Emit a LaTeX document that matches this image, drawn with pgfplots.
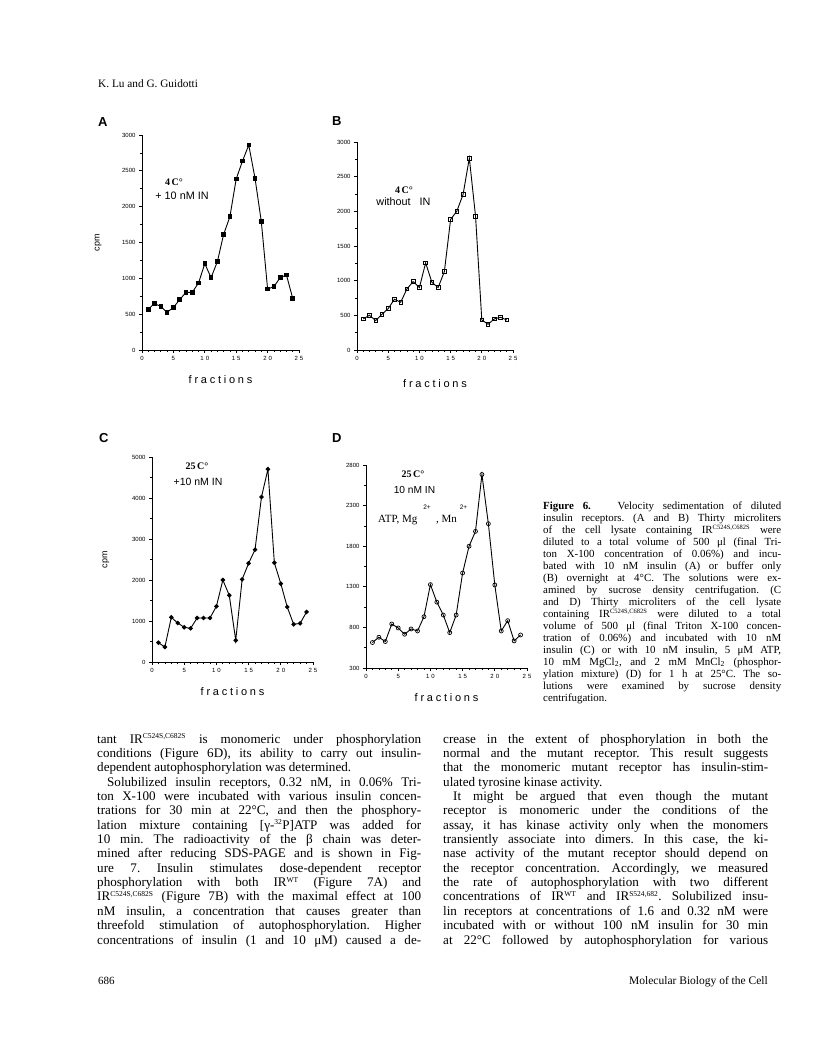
\documentclass[border=0pt]{standalone}
\usepackage{fontspec}
\setmainfont{Liberation Serif}
\setsansfont{Liberation Sans}
\newfontfamily\spacedsans[LetterSpace=25]{Liberation Sans}
\usepackage{pgfplots}
\pgfplotsset{compat=1.18}

\pgfplotsset{panel/.style={
  scale only axis, axis lines=left, axis line style={-, line width=0.9pt},
  xmin=0, xmax=25, xtick={0,5,10,15,20,25},
  xticklabels={0,5,1\hspace{2pt}0,1\hspace{2pt}5,2\hspace{2pt}0,2\hspace{2pt}5},
  minor x tick num=4,
  tick align=outside, major tick length=3pt, minor tick length=1.8pt,
  every tick/.style={black, line width=0.7pt},
  tick label style={font=\sffamily\fontsize{6pt}{6.5pt}\selectfont},
  /pgf/number format/assume math mode=true,
  /pgf/number format/set thousands separator={},
  xlabel={\spacedsans\fontsize{11pt}{12pt}\selectfont fractions},
  xlabel style={at={(axis description cs:0.5,0)}, anchor=center, yshift=-30pt},
  every axis plot/.append style={black, line width=0.9pt},
  clip=false,
}}

\newcommand\jl[1]{\makebox[324pt][s]{#1}}
\newcommand\jr[1]{\makebox[325pt][s]{#1}}
\newcommand\cl[1]{\makebox[238pt][s]{#1}}
\newcommand\bodyfont{\fontsize{13.1pt}{14.4pt}\selectfont}
\newcommand\capfont{\fontsize{10.9pt}{12pt}\selectfont}
\newcommand\sups[1]{\textsuperscript{\fontsize{7.5pt}{8pt}\selectfont #1}}
\newcommand\csups[1]{\textsuperscript{\fontsize{6.5pt}{7pt}\selectfont #1}}

\begin{document}
\frenchspacing
\begin{tikzpicture}[x=1pt,y=1pt]
\path[use as bounding box, fill=white] (0,0) rectangle (816,-1062);

% header
\node[anchor=base west, inner sep=0, font=\fontsize{11.3pt}{13pt}\selectfont] at (98,-88) {K. Lu and G. Guidotti};

% panel letters
\node[anchor=base west, inner sep=0, font=\sffamily\bfseries\fontsize{13pt}{14pt}\selectfont] at (98,-127) {A};
\node[anchor=base west, inner sep=0, font=\sffamily\bfseries\fontsize{13pt}{14pt}\selectfont] at (332,-125) {B};
\node[anchor=base west, inner sep=0, font=\sffamily\bfseries\fontsize{13pt}{14pt}\selectfont] at (99,-442) {C};
\node[anchor=base west, inner sep=0, font=\sffamily\bfseries\fontsize{13pt}{14pt}\selectfont] at (332,-442) {D};

% Panel A
\begin{axis}[panel, at={(142pt,-350pt)}, anchor=south west, width=157pt, height=215pt,
  ymin=0, ymax=3000, ytick={0,500,...,3000}, minor y tick num=1,
  ylabel={cpm}, ylabel style={at={(axis description cs:-0.28,0.5)}, anchor=center, font=\sffamily\fontsize{9pt}{10pt}\selectfont}]
\addplot[mark=square*, mark size=1.8pt, mark options={solid}] coordinates {
(1,567)(2,651)(3,605)(4,526)(5,595)(6,702)(7,805)(8,805)(9,935)(10,1205)(11,1009)(12,1233)
(13,1614)(14,1860)(15,2386)(16,2637)(17,2860)(18,2395)(19,1791)(20,851)(21,884)(22,1009)(23,1047)(24,721)};
\end{axis}

% Panel B
\begin{axis}[panel, at={(357pt,-350pt)}, anchor=south west, width=156pt, height=208pt,
  ymin=0, ymax=3000, ytick={0,500,...,3000}, minor y tick num=1,
  xlabel style={yshift=-4pt}]
\addplot[mark=square, mark size=1.8pt, mark options={solid, fill=white, line width=0.7pt}] coordinates {
(1,448)(2,501)(3,424)(4,515)(5,597)(6,732)(7,688)(8,881)(9,987)(10,900)(11,1257)(12,977)
(13,900)(14,1131)(15,1883)(16,2003)(17,2244)(18,2768)(19,1926)(20,433)(21,371)(22,448)(23,472)(24,433)};
\end{axis}

% Panel C
\begin{axis}[panel, at={(152pt,-662pt)}, anchor=south west, width=161pt, height=205pt,
  ymin=0, ymax=5000, ytick={0,1000,...,5000}, minor y tick num=1,
  ylabel={cpm}, ylabel style={at={(axis description cs:-0.286,0.5)}, anchor=center, font=\sffamily\fontsize{9pt}{10pt}\selectfont}]
\addplot[mark=*, mark size=1.8pt, mark options={solid}] coordinates {
(1,472)(2,366)(3,1089)(4,951)(5,846)(6,821)(7,1073)(8,1073)(9,1073)(10,1358)(11,2000)(12,1626)
(13,528)(14,2016)(15,2407)(16,2740)(17,4025)(18,4702)(19,2420)(20,1911)(21,1341)(22,919)(23,943)(24,1220)};
\end{axis}

% Panel D
\begin{axis}[panel, at={(366pt,-668pt)}, anchor=south west, width=161pt, height=203pt,
  ymin=300, ymax=2800, ytick={300,800,...,2800}, minor y tick num=1]
\addplot[mark=o, mark size=2pt, mark options={solid, fill=white, line width=0.7pt}] coordinates {
(1,614)(2,679)(3,626)(4,842)(5,793)(6,716)(7,781)(8,756)(9,932)(10,1327)(11,1111)(12,952)
(13,736)(14,952)(15,1470)(16,1800)(17,1983)(18,2683)(19,2077)(20,1323)(21,756)(22,883)(23,634)(24,707)};
\end{axis}

% annotations
\node[font=\bfseries\fontsize{10pt}{11pt}\selectfont] at (174,-182) {4\,C°};
\node[font=\sffamily\fontsize{10.8pt}{12pt}\selectfont] at (182,-196) {+ 10 nM IN};
\node[font=\bfseries\fontsize{10pt}{11pt}\selectfont] at (404,-190) {4\,C°};
\node[font=\sffamily\fontsize{10.8pt}{12pt}\selectfont] at (403.5,-202) {without\ \ \ IN};
\node[font=\bfseries\fontsize{10pt}{11pt}\selectfont] at (197,-466) {25\,C°};
\node[font=\sffamily\fontsize{10.5pt}{12pt}\selectfont] at (198,-482) {+10 nM IN};
\node[font=\bfseries\fontsize{10pt}{11pt}\selectfont] at (413,-474) {25\,C°};
\node[font=\sffamily\fontsize{10.2pt}{12pt}\selectfont] at (414.5,-490) {10 nM IN};
\node[anchor=base west, inner sep=0, font=\fontsize{11pt}{12pt}\selectfont] at (378,-522) {ATP, Mg};
\node[font=\sffamily\fontsize{6.5pt}{7pt}\selectfont] at (427,-507) {2+};
\node[anchor=base west, inner sep=0, font=\fontsize{11pt}{12pt}\selectfont] at (436,-522) {, Mn};
\node[font=\sffamily\fontsize{6.5pt}{7pt}\selectfont] at (463.5,-507) {2+};

% caption
\begin{scope}[every node/.style={anchor=base west, inner sep=0, font=\capfont}]
\node at (543,-509) {\cl{\textbf{Figure 6.}\ \ \ Velocity sedimentation of diluted}};
\node at (543,-521) {\cl{insulin receptors. (A and B) Thirty microliters}};
\node at (543,-533) {\cl{of the cell lysate containing IR\csups{C524S,C682S} were}};
\node at (543,-545) {\cl{diluted to a total volume of 500 μl (final Tri-}};
\node at (543,-557) {\cl{ton X-100 concentration of 0.06\%) and incu-}};
\node at (543,-569) {\cl{bated with 10 nM insulin (A) or buffer only}};
\node at (543,-581) {\cl{(B) overnight at 4°C. The solutions were ex-}};
\node at (543,-593) {\cl{amined by sucrose density centrifugation. (C}};
\node at (543,-605) {\cl{and D) Thirty microliters of the cell lysate}};
\node at (543,-617) {\cl{containing IR\csups{C524S,C682S} were diluted to a total}};
\node at (543,-629) {\cl{volume of 500 μl (final Triton X-100 concen-}};
\node at (543,-641) {\cl{tration of 0.06\%) and incubated with 10 nM}};
\node at (543,-653) {\cl{insulin (C) or with 10 nM insulin, 5 μM ATP,}};
\node at (543,-665) {\cl{10 mM MgCl\textsubscript{2}, and 2 mM MnCl\textsubscript{2} (phosphor-}};
\node at (543,-677) {\cl{ylation mixture) (D) for 1 h at 25°C. The so-}};
\node at (543,-689) {\cl{lutions were examined by sucrose density}};
\node at (543,-701) {centrifugation.};
\end{scope}

% body left column
\begin{scope}[every node/.style={anchor=base west, inner sep=0, font=\bodyfont}]
\node at (97,-743) {\jl{tant IR\sups{C524S,C682S} is monomeric under phosphorylation}};
\node at (97,-757.4) {\jl{conditions (Figure 6D), its ability to carry out insulin-}};
\node at (97,-771.7) {dependent autophosphorylation was determined.};
\node at (97,-786.1) {\jl{\hspace{10pt}Solubilized insulin receptors, 0.32 nM, in 0.06\% Tri-}};
\node at (97,-800.4) {\jl{ton X-100 were incubated with various insulin concen-}};
\node at (97,-814.8) {\jl{trations for 30 min at 22°C, and then the phosphory-}};
\node at (97,-829.1) {\jl{lation mixture containing [γ-\sups{32}P]ATP was added for}};
\node at (97,-843.5) {\jl{10 min. The radioactivity of the β chain was deter-}};
\node at (97,-857.9) {\jl{mined after reducing SDS-PAGE and is shown in Fig-}};
\node at (97,-872.2) {\jl{ure 7. Insulin stimulates dose-dependent receptor}};
\node at (97,-886.6) {\jl{phosphorylation with both IR\sups{WT} (Figure 7A) and}};
\node at (97,-900.9) {\jl{IR\sups{C524S,C682S} (Figure 7B) with the maximal effect at 100}};
\node at (97,-915.3) {\jl{nM insulin, a concentration that causes greater than}};
\node at (97,-929.6) {\jl{threefold stimulation of autophosphorylation. Higher}};
\node at (97,-944) {\jl{concentrations of insulin (1 and 10 μM) caused a de-}};
% right column
\node at (443,-743) {\jr{crease in the extent of phosphorylation in both the}};
\node at (443,-757.4) {\jr{normal and the mutant receptor. This result suggests}};
\node at (443,-771.7) {\jr{that the monomeric mutant receptor has insulin-stim-}};
\node at (443,-786.1) {ulated tyrosine kinase activity.};
\node at (443,-800.4) {\jr{\hspace{10pt}It might be argued that even though the mutant}};
\node at (443,-814.8) {\jr{receptor is monomeric under the conditions of the}};
\node at (443,-829.1) {\jr{assay, it has kinase activity only when the monomers}};
\node at (443,-843.5) {\jr{transiently associate into dimers. In this case, the ki-}};
\node at (443,-857.9) {\jr{nase activity of the mutant receptor should depend on}};
\node at (443,-872.2) {\jr{the receptor concentration. Accordingly, we measured}};
\node at (443,-886.6) {\jr{the rate of autophosphorylation with two different}};
\node at (443,-900.9) {\jr{concentrations of IR\sups{WT} and IR\sups{S524,682}. Solubilized insu-}};
\node at (443,-915.3) {\jr{lin receptors at concentrations of 1.6 and 0.32 nM were}};
\node at (443,-929.6) {\jr{incubated with or without 100 nM insulin for 30 min}};
\node at (443,-944) {\jr{at 22°C followed by autophosphorylation for various}};
\end{scope}

% footer
\node[anchor=base west, inner sep=0, font=\fontsize{11pt}{12pt}\selectfont] at (98,-984) {686};
\node[anchor=base east, inner sep=0, font=\fontsize{11.5pt}{12pt}\selectfont] at (768,-984) {Molecular Biology of the Cell};
\end{tikzpicture}
\end{document}
